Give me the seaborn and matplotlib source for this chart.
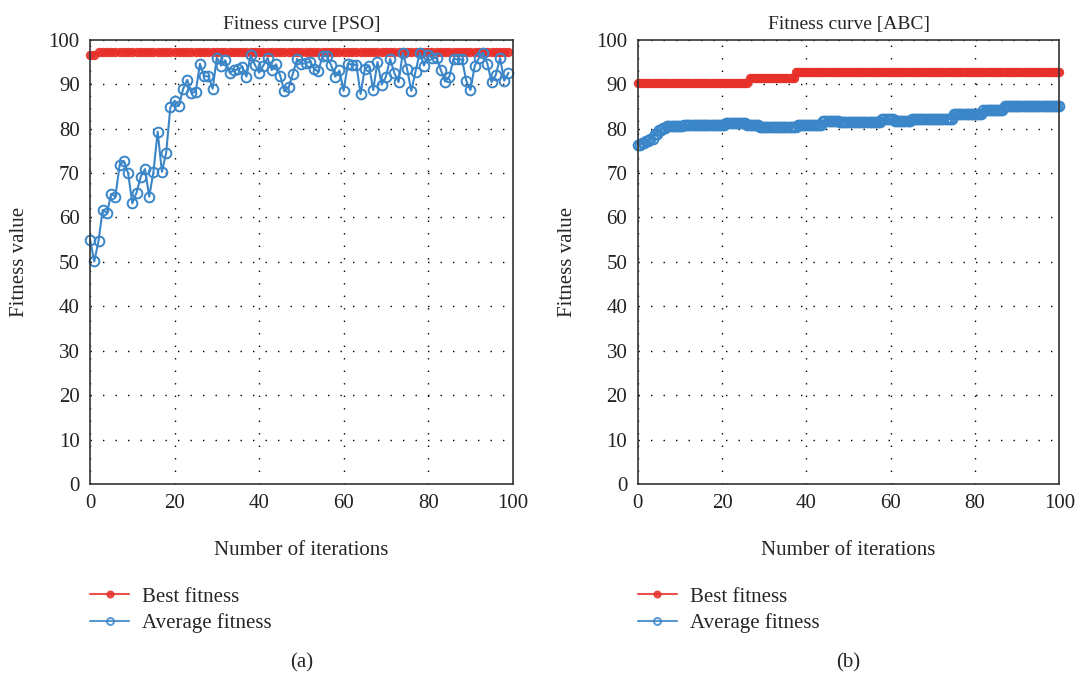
import numpy as np
import pandas as pd
import matplotlib
matplotlib.use("Agg")
import matplotlib.pyplot as plt
import seaborn as sns

# PSO: one value per iteration
pso_iter = list(range(0, 100))
pso_best = [96.6, 96.6] + [97.3] * 98
pso_avg = [55.0, 50.1, 54.7, 61.7, 61.0, 65.3, 64.7, 71.8, 72.7, 70.0,
           63.2, 65.6, 69.2, 70.9, 64.7, 70.3, 79.3, 70.3, 74.5, 84.8,
           86.3, 85.1, 88.9, 91.0, 88.0, 88.3, 94.6, 91.8, 91.8, 89.0,
           96.0, 94.2, 95.4, 92.6, 93.1, 93.4, 93.9, 91.7, 96.5, 94.4,
           92.6, 94.2, 95.9, 93.2, 94.5, 91.9, 88.4, 89.3, 92.4, 95.7,
           94.6, 94.7, 95.1, 93.4, 92.9, 96.4, 96.3, 94.4, 91.7, 93.1,
           88.5, 94.6, 94.4, 94.4, 87.8, 93.4, 94.2, 88.7, 95.0, 89.9,
           91.7, 95.7, 92.5, 90.5, 97.1, 93.5, 88.5, 92.8, 97.1, 94.2,
           96.5, 95.9, 95.9, 93.2, 90.6, 91.7, 95.7, 95.6, 95.6, 90.8,
           88.7, 94.1, 95.9, 97.1, 94.6, 90.5, 92.1, 95.9, 90.8, 92.6]

# ABC: step levels (start iteration, value), sampled twice per iteration
abc_best_start = [0, 26.5, 37.5]
abc_best_level = [90.3, 91.4, 92.7]
abc_avg_start = [0, 1, 2, 3, 4, 5, 6, 7, 11, 21, 26, 29, 38, 44, 48, 58, 61, 65, 75, 82, 87]
abc_avg_level = [76.3, 76.8, 77.2, 77.7, 78.8, 79.6, 80.2, 80.5, 80.9, 81.3, 80.9,
                 80.3, 80.9, 81.8, 81.4, 82.2, 81.7, 82.2, 83.3, 84.1, 85.2]
abc_iter = np.arange(0, 100.5, 0.5)

abc_best = np.array(abc_best_level)[np.searchsorted(abc_best_start, abc_iter, side="right") - 1]
abc_avg = np.array(abc_avg_level)[np.searchsorted(abc_avg_start, abc_iter, side="right") - 1]

red = "#e8302a"
blue = "#3a86c8"

sns.set_style("white")
plt.rcParams["font.family"] = ["Liberation Serif", "DejaVu Serif"]

fig = plt.figure(figsize=(10.81, 6.75), dpi=100)
ax1 = fig.add_axes([0.0833, 0.283, 0.391, 0.658])
ax2 = fig.add_axes([0.590, 0.283, 0.390, 0.658])


def draw(ax, x_best, y_best, x_avg, y_avg, title, tag):
    sns.lineplot(x=x_best, y=y_best, ax=ax, color=red, marker="o", markersize=6,
                 markeredgecolor=red, markerfacecolor=red, linewidth=1.5,
                 label="Best fitness", alpha=0.9, clip_on=False)
    sns.lineplot(x=x_avg, y=y_avg, ax=ax, color=blue, marker="o", markersize=7,
                 markeredgecolor=blue, markerfacecolor="none", markeredgewidth=1.4,
                 linewidth=1.5, label="Average fitness", clip_on=False)
    ax.set_xlim(0, 100)
    ax.set_ylim(0, 100)
    ax.set_xticks(range(0, 101, 20))
    ax.set_yticks(range(0, 101, 10))
    ax.grid(True, color="black", linestyle=(0, (1, 8)), linewidth=1)
    ax.tick_params(direction="out", length=4, width=1, labelsize=15, colors="#222222")
    for s in ax.spines.values():
        s.set_color("#333333")
        s.set_linewidth(1.2)
    ax.set_title(title, fontsize=14, pad=8)
    ax.set_xlabel("Number of iterations", fontsize=15, labelpad=20)
    ax.set_ylabel("Fitness value", fontsize=15, labelpad=14)
    leg = ax.legend(loc="upper left", bbox_to_anchor=(-0.045, -0.19), frameon=False,
                    fontsize=15, handlelength=1.9, labelspacing=0.3, handletextpad=0.6)
    for h in leg.legend_handles:
        h.set_markersize(5)
        h.set_alpha(0.85)
    ax.text(0.5, -0.38, tag, transform=ax.transAxes, ha="center", va="top", fontsize=15)


draw(ax1, pso_iter, pso_best, pso_iter, pso_avg, "Fitness curve [PSO]", "(a)")
draw(ax2, abc_iter, abc_best, abc_iter, abc_avg, "Fitness curve [ABC]", "(b)")

fig.savefig("out.png", dpi=100)
